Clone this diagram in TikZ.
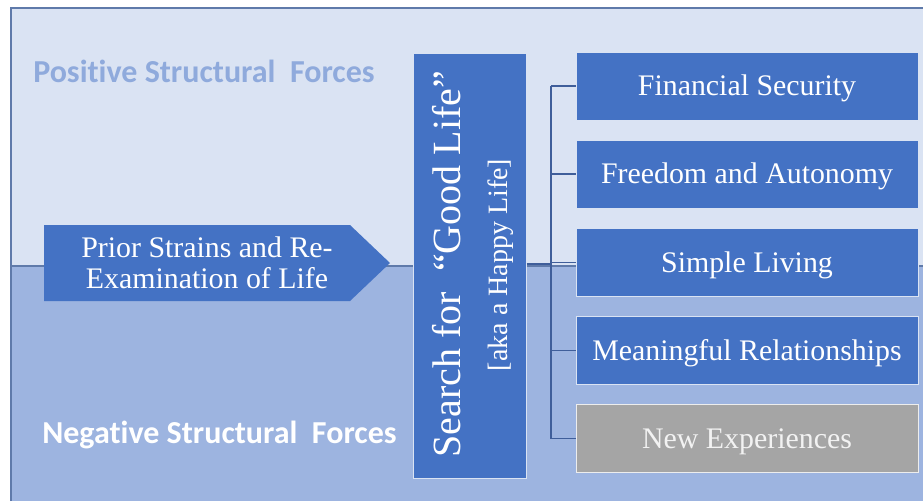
\documentclass[tikz,border=0pt]{standalone}
\usepackage{fontspec}
\setmainfont{Liberation Serif}
\newfontfamily\carlito[Ligatures=NoCommon]{Carlito}
\definecolor{bgtop}{HTML}{DAE3F3}
\definecolor{bgbot}{HTML}{9DB4E0}
\definecolor{boxblue}{HTML}{4472C4}
\definecolor{boxgray}{HTML}{A5A5A5}
\definecolor{poscol}{HTML}{8FAADC}
\definecolor{framecol}{HTML}{5F7AAA}
\definecolor{linecol}{HTML}{3F5E9A}
\begin{document}
\begin{tikzpicture}[x=0.75pt,y=-0.75pt,
  boxline/.style={draw=white!80!boxblue, line width=0.75pt},
  rbox/.style={boxline, fill=boxblue, text=white, font=\fontsize{22.4}{24}\selectfont,
    minimum width=256.5pt, minimum height=51pt, inner sep=0pt,
    text height=19.9pt, text depth=5.6pt},
  graybox/.style={rbox, fill=boxgray, draw=white!80!boxgray, text=white!95!black},
  conn/.style={draw=linecol, line width=0.9pt},
  forcelabel/.style={font=\carlito\bfseries\fontsize{24}{26}\selectfont, anchor=base west, inner sep=0pt}
]
\useasboundingbox (0,0) rectangle (923,501);
% background
\fill[white] (0,0) rectangle (923,501);
\fill[bgtop] (11,8) rectangle (923,266);
\fill[bgbot] (11,266) rectangle (923,501);
\draw[framecol, line width=0.9pt] (11,501) -- (11,8) -- (923,8);
\draw[framecol, line width=0.9pt] (11,266) -- (923,266);

% labels
\node[forcelabel, text=poscol] (pos) at (33,82) {Positive Structural\ \ Forces};
\node[forcelabel, text=white] (neg) at (42,443) {Negative Structural\ \ Forces};

% arrow pentagon
\fill[boxblue] (44,225) -- (350,225) -- (390,263) -- (350,301) -- (44,301) -- cycle;
\node[text=white, align=center, font=\fontsize{22.4}{23.3}\selectfont, inner sep=0pt] (prior) at (207,263)
  {Prior Strains and Re-\\Examination of Life};

% central box
\node[boxline, fill=boxblue, minimum width=84.75pt, minimum height=318.75pt, inner sep=0pt] (cbox) at (469.5,265.5) {};
\node[rotate=90, text=white, font=\fontsize{30}{32}\selectfont, inner sep=0pt] (search) at (447,264)
  {Search for\ \ “Good Life”};
\node[rotate=90, text=white, font=\fontsize{21}{24}\selectfont, inner sep=0pt] (aka) at (501,265)
  {[aka a Happy Life]};

% right boxes
\node[rbox] (b1) at (747,86) {Financial Security};
\node[rbox] (b2) at (747,174) {Freedom and Autonomy};
\node[rbox] (b3) at (747,262.5) {Simple Living};
\node[rbox] (b4) at (747,350.5) {Meaningful Relationships};
\node[graybox] (b5) at (747,438.5) {New Experiences};

% connectors
\coordinate (tr) at (551,264);
\draw[conn] (cbox.east |- tr) -- (tr);
\draw[conn] (b1.west -| tr) -- (b5.west -| tr);
\foreach \b in {b1,b2,b3,b4,b5} {\draw[conn] (\b.west -| tr) -- (\b.west);}
\end{tikzpicture}
\end{document}
